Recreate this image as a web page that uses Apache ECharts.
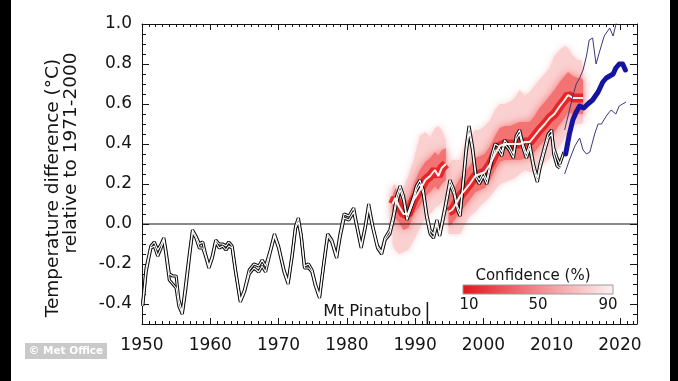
<!DOCTYPE html>
<html><head><meta charset="utf-8">
<script src="https://cdn.jsdelivr.net/npm/echarts@6/dist/echarts.min.js"></script>
<style>html,body{margin:0;padding:0;background:#fff;}#c{width:678px;height:381px;}</style>
</head><body><div id="c"></div>
<script>
// ---- tick labels ----
const xLabels = [1950, 1960, 1970, 1980, 1990, 2000, 2010, 2020];
const yLabels = [-0.4, -0.2, 0.0, 0.2, 0.4, 0.6, 0.8, 1.0];
const legendTicks = ['10', '50', '90'];
const pinatuboYear = 1991.8;

// ---- observations (two datasets) ----
const obsYears = [
 1950.1,1950.6,1951.3,1951.8,1952.3,1952.8,1953.2,1953.5,1954.0,1954.5,
 1955.0,1955.4,1955.9,1956.4,1956.9,1957.4,1957.9,1958.4,1958.9,1959.3,
 1959.8,1960.3,1960.8,1961.3,1961.8,1962.3,1962.7,1963.2,1963.7,1964.4,
 1965.0,1965.7,1966.4,1967.1,1967.6,1968.1,1968.8,1969.4,1970.0,1970.8,
 1971.4,1972.0,1972.5,1972.9,1973.3,1973.8,1974.4,1974.9,1975.4,1976.0,
 1976.6,1977.2,1977.8,1978.5,1979.0,1979.6,1980.3,1981.0,1981.5,1982.1,
 1982.7,1983.2,1983.8,1984.5,1985.1,1985.6,1986.3,1986.8,1987.3,1987.8,
 1988.3,1988.8,1989.3,1989.8,1990.2,1990.7,1991.2,1991.7,1992.2,1992.7,
 1993.2,1993.6,1994.4,1995.1,1995.7,1996.2,1996.6,1997.1,1997.5,1997.9,
 1998.4,1998.9,1999.4,2000.0,2000.5,2001.2,2001.7,2002.2,2002.7,2003.1,
 2003.8,2004.4,2004.8,2005.3,2005.8,2006.3,2006.8,2007.4,2007.9,2008.3,
 2009.0,2009.5,2010.0,2010.3,2010.8,2011.2,2011.8];
const obsA = [
 -0.40,-0.22,-0.11,-0.09,-0.13,-0.10,-0.07,-0.13,-0.25,-0.26,
 -0.26,-0.38,-0.44,-0.30,-0.16,-0.03,-0.06,-0.10,-0.09,-0.15,
 -0.21,-0.16,-0.08,-0.10,-0.10,-0.11,-0.09,-0.11,-0.23,-0.38,
 -0.33,-0.23,-0.20,-0.21,-0.18,-0.21,-0.13,-0.05,-0.11,-0.23,
 -0.29,-0.15,-0.01,0.03,-0.05,-0.21,-0.20,-0.23,-0.30,-0.36,
 -0.20,-0.05,-0.08,-0.16,-0.05,0.05,0.04,0.08,-0.01,-0.11,
 -0.01,0.10,-0.01,-0.11,-0.14,-0.07,-0.03,0.04,0.14,0.19,
 0.14,0.04,0.09,0.14,0.19,0.22,0.17,0.05,-0.03,-0.05,
 0.02,-0.05,0.09,0.22,0.17,0.09,0.06,0.24,0.39,0.49,
 0.39,0.25,0.22,0.26,0.22,0.34,0.40,0.39,0.36,0.42,
 0.39,0.35,0.44,0.47,0.40,0.35,0.40,0.29,0.23,0.30,
 0.39,0.45,0.47,0.35,0.29,0.28,null];
const obsB = [
 -0.41,-0.24,-0.12,-0.11,-0.16,-0.12,-0.08,-0.15,-0.28,-0.30,
 -0.32,-0.41,-0.45,-0.33,-0.18,-0.04,-0.07,-0.12,-0.12,-0.16,
 -0.22,-0.17,-0.09,-0.12,-0.11,-0.13,-0.11,-0.12,-0.24,-0.39,
 -0.34,-0.25,-0.22,-0.24,-0.21,-0.24,-0.14,-0.06,-0.12,-0.24,
 -0.30,-0.16,-0.02,0.01,-0.06,-0.22,-0.22,-0.24,-0.31,-0.37,
 -0.21,-0.06,-0.09,-0.17,-0.07,0.03,0.02,0.06,-0.02,-0.12,
 -0.02,0.08,-0.02,-0.12,-0.15,-0.08,-0.05,0.02,0.11,0.17,
 0.12,0.02,0.07,0.12,0.17,0.20,0.15,0.03,-0.05,-0.07,
 0.00,-0.06,0.07,0.20,0.15,0.07,0.04,0.22,0.36,0.46,
 0.37,0.23,0.20,0.24,0.20,0.31,0.37,0.37,0.34,0.40,
 0.37,0.33,0.42,0.45,0.38,0.33,0.38,0.27,0.21,0.28,
 0.37,0.43,0.45,0.38,0.33,0.30,0.36];

// ---- hindcast 1 ----
const seg1Years = [1986.7,1987.1,1987.6,1988.3,1989.0,1989.8,1990.7,1991.5,1992.2,1992.9,1993.4,1993.9,1994.5];
const seg1Mid   = [0.10,0.13,0.09,0.05,0.05,0.12,0.17,0.22,0.24,0.27,0.24,0.28,0.30];
const seg1Lo90  = [-0.10,-0.13,-0.15,-0.14,-0.13,-0.08,-0.02,0.03,0.05,0.08,0.09,0.11,0.15];
const seg1Hi90  = [0.19,0.20,0.15,0.18,0.24,0.32,0.44,0.46,0.43,0.48,0.49,0.47,0.42];
const seg1Lo50  = [-0.02,0.03,0.01,-0.03,-0.02,0.05,0.09,0.14,0.16,0.19,0.17,0.20,0.22];
const seg1Hi50  = [0.14,0.18,0.14,0.11,0.12,0.20,0.27,0.31,0.33,0.36,0.34,0.37,0.38];

// ---- hindcast 2 ----
const seg2Years = [1994.9,1995.4,1995.8,1996.6,1997.3,1998.0,1998.8,1999.5,2000.2,2001.0,
 2001.7,2002.4,2003.1,2003.9,2004.6,2005.3,2006.1,2006.8,2007.5,2008.2,
 2009.0,2009.7,2010.4,2011.2,2011.9,2012.4,2013.1,2013.8,2014.3,2014.6];
const seg2Mid = [0.06,0.07,0.09,0.14,0.17,0.20,0.24,0.25,0.26,0.30,
 0.35,0.39,0.40,0.40,0.40,0.40,0.41,0.41,0.44,0.47,
 0.50,0.53,0.55,0.59,0.62,0.645,0.63,0.63,0.63,0.63];
const seg2Hi90 = [0.29,0.32,0.32,0.32,0.39,0.43,0.47,0.47,0.49,0.52,
 0.57,0.60,0.60,0.61,0.63,0.67,0.64,0.66,0.69,0.72,
 0.75,0.78,0.84,0.87,0.89,0.88,0.84,0.82,0.82,0.78];
const seg2Lo90 = [-0.05,-0.05,-0.05,-0.05,0.00,0.04,0.06,0.09,0.11,0.14,
 0.17,0.20,0.21,0.22,0.23,0.25,0.27,0.26,0.26,0.29,
 0.31,0.33,0.36,0.39,0.43,0.46,0.49,0.50,0.50,0.51];
const seg2Hi50 = [0.14,0.16,0.18,0.23,0.26,0.29,0.33,0.34,0.35,0.39,
 0.44,0.48,0.49,0.49,0.50,0.51,0.51,0.51,0.54,0.58,
 0.61,0.64,0.67,0.71,0.74,0.76,0.74,0.73,0.73,0.72];
const seg2Lo50 = [-0.01,0.00,0.02,0.06,0.09,0.12,0.16,0.17,0.18,0.22,
 0.27,0.31,0.32,0.32,0.32,0.32,0.33,0.33,0.36,0.39,
 0.42,0.44,0.46,0.50,0.53,0.56,0.55,0.55,0.55,0.55];

// ---- forecast ----
const fcYears = [2012.05,2012.6,2013.1,2013.6,2014.1,2014.7,2015.3,2016.0,2016.8,2017.5,2018.0,2018.5,2019.0,2019.4,2019.9,2020.4,2020.8];
const fcMid   = [0.35,0.45,0.52,0.56,0.59,0.58,0.60,0.62,0.66,0.71,0.73,0.74,0.75,0.78,0.80,0.80,0.77];
const fcHiYears = [2011.9,2012.4,2013.1,2013.6,2014.1,2014.6,2015.1,2015.5,2016.0,2016.5,2017.0,2017.7,2018.5,2019.0,2019.5,2020.2];
const fcHi      = [0.47,0.54,0.64,0.70,0.73,0.77,0.84,0.92,0.93,0.80,0.86,0.94,0.98,0.94,1.01,1.05];
const fcLoYears = [2011.9,2012.6,2013.4,2014.1,2014.6,2015.1,2015.6,2016.3,2016.8,2017.3,2018.0,2018.7,2019.4,2019.9,2020.4,2020.9];
const fcLo      = [0.25,0.32,0.39,0.43,0.37,0.35,0.36,0.45,0.50,0.50,0.54,0.57,0.55,0.59,0.60,0.61];

// ---------------------------------------------------------------
const FONT = 'DejaVu Sans';
const INK = '#141414';
const X0 = 1950, X1 = 2022.5, Y0 = -0.5, Y1 = 1.0;

function pairs(xs, ys) { return xs.map((x, i) => [x, ys[i]]); }
function band(key, xs, lo, hi, color, blur) {
  return {
    type: 'custom', name: key, coordinateSystem: 'cartesian2d', silent: true, clip: true,
    data: xs.map((x, i) => [x, lo[i], hi[i]]),
    encode: { x: 0, y: [1, 2] },
    renderItem: function (params, api) {
      if (params.dataIndex !== 0) return null;
      const top = xs.map((x, i) => api.coord([x, hi[i]]));
      const bot = xs.map((x, i) => api.coord([x, lo[i]])).reverse();
      return { type: 'polygon', shape: { points: top.concat(bot) },
        style: { fill: color, shadowBlur: blur, shadowColor: color } };
    }
  };
}
function line(name, xs, ys, color, width, extra) {
  return Object.assign({ type: 'line', name: name, data: pairs(xs, ys), symbol: 'none',
    connectNulls: false, silent: true, lineStyle: { color: color, width: width } }, extra || {});
}

const PINK = '#fbd0d0', RED50 = '#f37373', GLOW = 'rgba(226,30,36,0.9)';

const series = [
  band('s1o', seg1Years, seg1Lo90, seg1Hi90, PINK, 6),
  band('s2o', seg2Years, seg2Lo90, seg2Hi90, PINK, 6),
  band('s1m', seg1Years, seg1Lo50, seg1Hi50, RED50, 8),
  band('s2m', seg2Years, seg2Lo50, seg2Hi50, RED50, 8),
  line('zero', [X0, X1], [0, 0], INK, 1),
  line('s1glow', seg1Years, seg1Mid, GLOW, 9),
  line('s2glow', seg2Years, seg2Mid, GLOW, 9),
  line('obsA_k', obsYears, obsA, '#111', 3.2),
  line('obsB_k', obsYears, obsB, '#111', 3.2),
  line('obsA_w', obsYears, obsA, '#ffffff', 1.1),
  line('obsB_w', obsYears, obsB, '#ffffff', 1.1),
  line('s1mid', seg1Years, seg1Mid, '#fff2ec', 2),
  line('s2mid', seg2Years, seg2Mid, '#fff2ec', 2),
  line('fcHi', fcHiYears, fcHi, '#3a3a78', 1),
  line('fcLo', fcLoYears, fcLo, '#3a3a78', 1),
  line('fcMid', fcYears, fcMid, '#1414a0', 5, { lineStyle: { color: '#1414a0', width: 5, cap: 'round', join: 'round' } }),
  line('pinatubo', [pinatuboYear, pinatuboYear], [Y0, -0.39], INK, 1.5)
];

function xAx(pos, major) {
  return {
    type: 'value', gridIndex: 0, position: pos, min: X0, max: X1,
    interval: major ? undefined : 1,
    axisLine: { show: major, onZero: false, lineStyle: { color: INK, width: 1 } },
    axisTick: major ? { show: true, inside: true, length: 6, customValues: xLabels, lineStyle: { color: INK } }
                    : { show: true, inside: true, length: 3, lineStyle: { color: INK } },
    axisLabel: (major && pos === 'bottom') ? { show: true, customValues: xLabels, formatter: v => String(v),
                    fontFamily: FONT, fontSize: 17, color: INK, margin: 13 } : { show: false },
    splitLine: { show: false }
  };
}
function yAx(pos, major) {
  return {
    type: 'value', gridIndex: 0, position: pos, min: Y0, max: Y1,
    interval: major ? undefined : 0.05,
    axisLine: { show: major, onZero: false, lineStyle: { color: INK, width: 1 } },
    axisTick: major ? { show: true, inside: true, length: 7, customValues: yLabels, lineStyle: { color: INK } }
                    : { show: true, inside: true, length: 4, lineStyle: { color: INK } },
    axisLabel: (major && pos === 'left') ? { show: true, customValues: yLabels, formatter: v => v.toFixed(1),
                    fontFamily: FONT, fontSize: 17, color: INK, margin: 10 } : { show: false },
    splitLine: { show: false }
  };
}

const chart = echarts.init(document.getElementById('c'), null, { renderer: 'canvas' });
chart.setOption({
  animation: false,
  backgroundColor: '#ffffff',
  grid: { left: 142, right: 41, top: 24, bottom: 57 },
  xAxis: [xAx('bottom', true), xAx('bottom', false), xAx('top', true), xAx('top', false)],
  yAxis: [yAx('left', true), yAx('left', false), yAx('right', true), yAx('right', false)],
  series: series.map(s => Object.assign(s, { xAxisIndex: 0, yAxisIndex: 0 }))
});

const pin = chart.convertToPixel({ xAxisIndex: 0, yAxisIndex: 0 }, [pinatuboYear, -0.44]);
const txt = (id, x, y, text, size, extra) => Object.assign({
  type: 'text', id: id, x: x, y: y, silent: true,
  style: { text: text, fontFamily: FONT, fontSize: size, fill: INK, align: 'center', verticalAlign: 'middle' }
}, extra || {});

chart.setOption({
  graphic: [
    { type: 'rect', id: 'barL', shape: { x: 0, y: 0, width: 11, height: 381 }, style: { fill: '#000' } },
    { type: 'rect', id: 'barR', shape: { x: 670, y: 0, width: 8, height: 381 }, style: { fill: '#000' } },
    { type: 'rect', id: 'mo', shape: { x: 25, y: 343, width: 82, height: 16 }, style: { fill: '#c9c9c9' } },
    txt('moT', 66, 351.5, '\u00a9 Met Office', 10.5, { style: { text: '\u00a9 Met Office', fontFamily: FONT, fontSize: 10.5, fontWeight: 'bold', fill: '#ffffff', align: 'center', verticalAlign: 'middle' } }),
    txt('t1', 53, 188, 'Temperature difference (\u00b0C)', 18.5, { rotation: Math.PI / 2 }),
    txt('t2', 71, 153, 'relative to 1971-2000', 18.5, { rotation: Math.PI / 2 }),
    txt('pinT', pin[0] - 6, pin[1], 'Mt Pinatubo', 16.5, { style: { text: 'Mt Pinatubo', fontFamily: FONT, fontSize: 16.5, fill: INK, align: 'right', verticalAlign: 'middle' } }),
    txt('cf', 533, 276, 'Confidence (%)', 15),
    { type: 'rect', id: 'cbar', shape: { x: 463, y: 285, width: 150, height: 9 },
      style: { stroke: '#9a9a9a', lineWidth: 1,
        fill: new echarts.graphic.LinearGradient(0, 0, 1, 0, [
          { offset: 0, color: '#e6141b' }, { offset: 0.5, color: '#f28a8e' }, { offset: 1, color: '#fdf1f2' }]) } },
    txt('l10', 469, 305, legendTicks[0], 15),
    txt('l50', 538, 305, legendTicks[1], 15),
    txt('l90', 608, 305, legendTicks[2], 15)
  ]
});
</script></body></html>
